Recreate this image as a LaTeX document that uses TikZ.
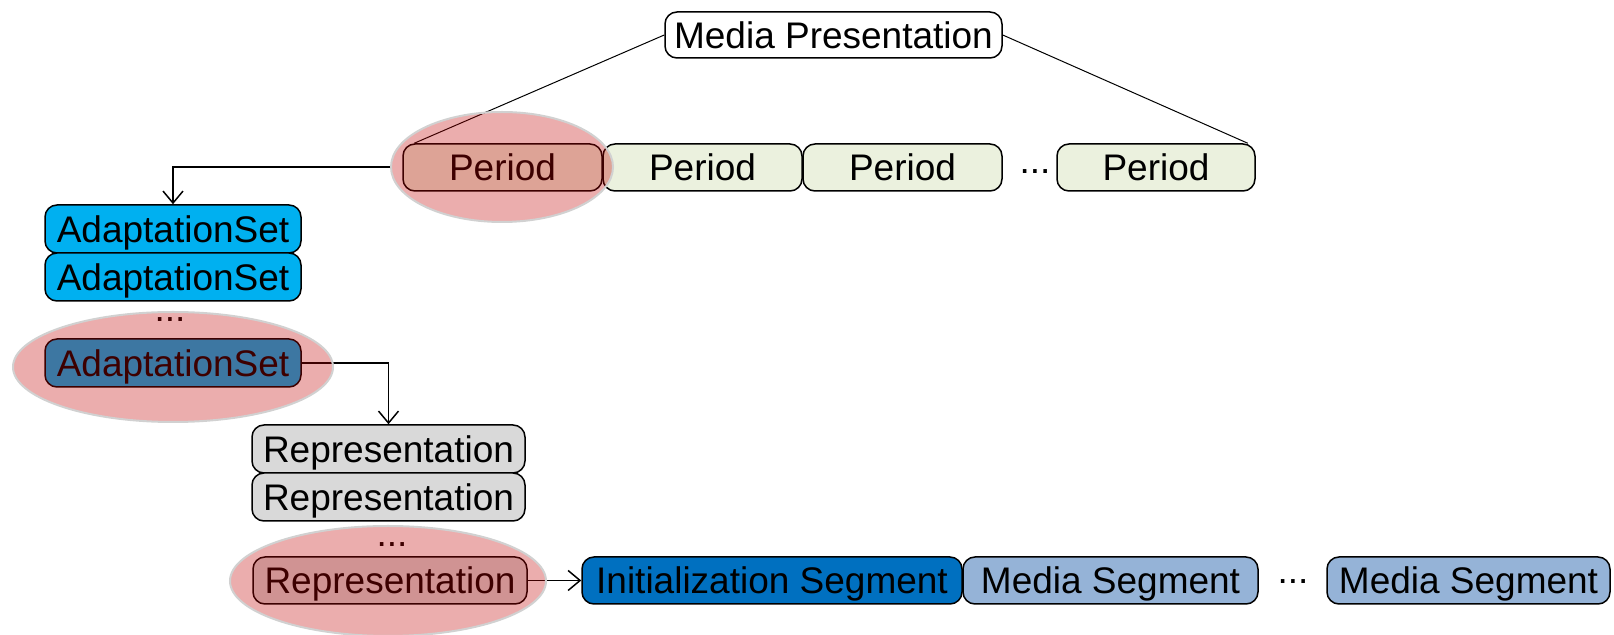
\documentclass[tikz,border=0pt]{standalone}
\usepackage{fontspec}
\setmainfont{Liberation Sans}
\usetikzlibrary{shapes.geometric}
\usetikzlibrary{arrows.meta}

\definecolor{periodgreen}{RGB}{235,241,222}
\definecolor{adaptblue}{RGB}{0,176,240}
\definecolor{reprgray}{RGB}{217,217,217}
\definecolor{initblue}{RGB}{0,112,192}
\definecolor{segblue}{RGB}{149,179,215}
\definecolor{markred}{RGB}{192,0,0}

\tikzset{
  box/.style={draw,rounded corners=6pt,line width=0.75pt,inner sep=0pt,minimum height=23.5pt,
    text height=13.2pt,text depth=0pt,font=\fontsize{18.5}{22}\selectfont},
  dots/.style={inner sep=0pt,font=\fontsize{18.5}{22}\selectfont},
  highlight/.style={ellipse,fill=markred,fill opacity=0.32,draw=black!18,line width=1pt,inner sep=0pt}
}

\begin{document}
\begin{tikzpicture}[x=0.5pt,y=-0.5pt,line width=0.75pt,>={Straight Barb[length=6pt,width=10pt]}]
\useasboundingbox (0,0) rectangle (1614,635);
\node (mp) [box,fill=white,minimum width=168.5pt,minimum height=23pt] at (833.5,35) {Media Presentation};
\node (p1) [box,fill=periodgreen,minimum width=99.5pt] at (502.5,167.5) {Period};
\node (p2) [box,fill=periodgreen,minimum width=99.5pt] at (702.5,167.5) {Period};
\node (p3) [box,fill=periodgreen,minimum width=99.5pt] at (902.5,167.5) {Period};
\node (pdots) [dots] at (1035,172) {...};
\node (p4) [box,fill=periodgreen,minimum width=99pt] at (1156,167.5) {Period};
\node (as1) [box,fill=adaptblue,minimum width=128pt,minimum height=24pt] at (173,229) {AdaptationSet};
\node (as2) [box,fill=adaptblue,minimum width=128pt,minimum height=24pt] at (173,277) {AdaptationSet};
\node (asdots) [dots] at (170,320) {...};
\node (as3) [box,fill=adaptblue,minimum width=128pt,minimum height=24pt] at (173,363) {AdaptationSet};
\node (rep1) [box,fill=reprgray,minimum width=136.5pt,minimum height=24pt] at (388.5,449) {Representation};
\node (rep2) [box,fill=reprgray,minimum width=136.5pt,minimum height=24pt] at (388.5,497) {Representation};
\node (repdots) [dots] at (392,545) {...};
\node (rep3) [box,fill=reprgray,minimum width=137pt] at (390,580.5) {Representation};
\node (init) [box,fill=initblue,minimum width=190pt] at (772,580.5) {Initialization Segment};
\node (ms1) [box,fill=segblue,minimum width=147.5pt] at (1110.5,580.5) {Media Segment};
\node (msdots) [dots] at (1293,582) {...};
\node (ms2) [box,fill=segblue,minimum width=141.5pt] at (1468.5,580.5) {Media Segment};
\draw [line width=0.5pt] (mp.west) -- ([xshift=6pt]p1.north west);
\draw [line width=0.5pt] (mp.east) -- ([xshift=-4pt]p4.north east);
\draw [->] (as3.east) -| (rep1.north);
\draw [->] (rep3.east) -- (init.west);
% highlighted path
\node (hp) [highlight,minimum width=111pt,minimum height=55pt] at (502,167) {};
\node (has) [highlight,minimum width=160pt,minimum height=55pt] at (173,367) {};
\node (hrep) [highlight,minimum width=158pt,minimum height=55pt] at (388,581) {};
\draw [->] (hp.west) -| (as1.north);
\end{tikzpicture}
\end{document}
